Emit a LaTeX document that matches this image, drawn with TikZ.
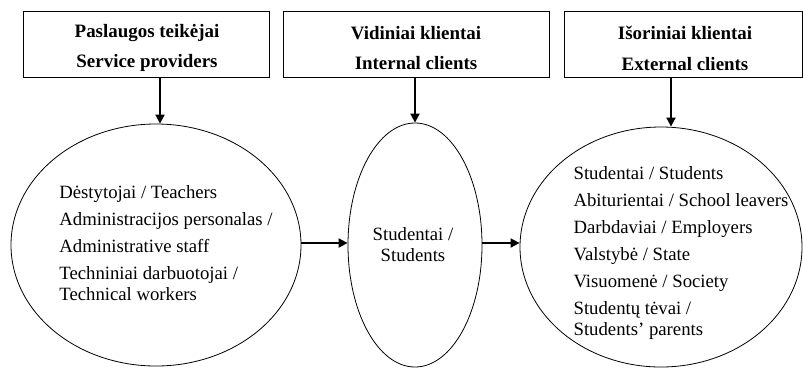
\documentclass[tikz,border=0pt]{standalone}
\usepackage{fontspec}
\setmainfont{Liberation Serif}
\usetikzlibrary{shapes.geometric,arrows.meta}
\begin{document}
\begin{tikzpicture}[x=1bp,y=-1bp,
  hbox/.style={draw,line width=0.8bp,inner sep=0pt,minimum height=66bp},
  htext/.style={inner sep=0pt,font=\fontsize{19}{31}\selectfont\bfseries,align=center},
  oval/.style={draw,ellipse,line width=0.8bp,inner sep=0pt},
  body/.style={font=\fontsize{18.8}{21}\selectfont,inner sep=0pt},
  arr/.style={line width=1.8bp,-{Triangle[length=9bp,width=9bp]}}]
\useasboundingbox (0,0) rectangle (803,367);
% header boxes
\node[hbox,minimum width=246bp] (b1) at (146,44) {};
\node[hbox,minimum width=266bp] (b2) at (416,44) {};
\node[hbox,minimum width=238bp] (b3) at (683,44) {};
\node[htext] (h1) at (147,48) {Paslaugos teikėjai\\Service providers};
\node[htext] (h2) at (416,48) {Vidiniai klientai\\Internal clients};
\node[htext] (h3) at (685,48) {Išoriniai klientai\\External clients};
% ellipses
\node[oval,minimum width=290bp,minimum height=242bp] (e1) at (156,245) {};
\node[oval,minimum width=134bp,minimum height=244bp] (e2) at (415,245) {};
\node[oval,minimum width=282bp,minimum height=240bp] (e3) at (661,247) {};
% texts
\node[body,align=left] (t1) at (166,243) {Dėstytojai / Teachers\\[6bp]Administracijos personalas /\\[6bp]Administrative staff\\[6bp]Techniniai darbuotojai /\\Technical workers};
\node[body,align=center] (t2) at (413,245) {Studentai /\\Students};
\node[body,align=left] (t3) at (681,253) {Studentai / Students\\[6bp]Abiturientai / School leavers\\[6bp]Darbdaviai / Employers\\[6bp]Valstybė / State\\[6bp]Visuomenė / Society\\[6bp]Studentų tėvai /\\Students’ parents};
% arrow positions
\coordinate (a1) at (160,0);
\coordinate (a3) at (671,0);
\coordinate (mid) at (0,243);
\draw[arr] (b1.south -| a1) -- (e1.north -| a1);
\draw[arr] (b2.south -| e2.north) -- (e2.north);
\draw[arr] (b3.south -| a3) -- (e3.north -| a3);
\draw[arr] (e1.east |- mid) -- (e2.west |- mid);
\draw[arr] (e2.east |- mid) -- (e3.west |- mid);
\end{tikzpicture}
\end{document}
